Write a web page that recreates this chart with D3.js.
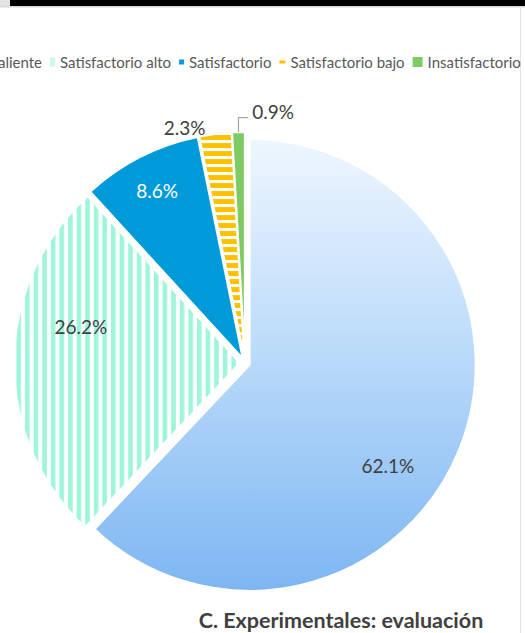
<!DOCTYPE html>
<html>
<head>
<meta charset="utf-8">
<script src="https://cdn.jsdelivr.net/npm/d3@7"></script>
<style>
  body { margin: 0; background: #fff; }
  svg { display: block; }
</style>
</head>
<body>
<div id="chart"></div>
<script>
// data
var categories = ["Sobresaliente", "Satisfactorio alto", "Satisfactorio", "Satisfactorio bajo", "Insatisfactorio"];
var values = [62.1, 26.2, 8.6, 2.3, 0.9];
var labels = ["62.1%", "26.2%", "8.6%", "2.3%", "0.9%"];
var title = "C. Experimentales: evaluación";

var width = 525, height = 633;
var cx = 245, cy = 363, radius = 226, explode = 5;

var svg = d3.select("#chart")
  .append("svg")
  .attr("width", width)
  .attr("height", height);

var defs = svg.append("defs");

// gradient for the big slice (coords are relative to the pie centre)
var grad = defs.append("linearGradient")
  .attr("id", "gradBlue")
  .attr("gradientUnits", "userSpaceOnUse")
  .attr("x1", 0).attr("y1", -radius)
  .attr("x2", 0).attr("y2", radius);
grad.append("stop").attr("offset", "0%").attr("stop-color", "#eef6fe");
grad.append("stop").attr("offset", "45%").attr("stop-color", "#bddcfa");
grad.append("stop").attr("offset", "100%").attr("stop-color", "#7db6f2");

// vertical mint stripes
var vs = defs.append("pattern")
  .attr("id", "vStripes")
  .attr("patternUnits", "userSpaceOnUse")
  .attr("width", 8.6).attr("height", 10);
vs.append("rect").attr("width", 8.6).attr("height", 10).attr("fill", "#fff");
vs.append("rect").attr("x", 0).attr("width", 4.6).attr("height", 10).attr("fill", "#9ef6da");

// horizontal gold dashes
var hs = defs.append("pattern")
  .attr("id", "hStripes")
  .attr("patternUnits", "userSpaceOnUse")
  .attr("width", 10).attr("height", 8);
hs.append("rect").attr("width", 10).attr("height", 8).attr("fill", "#fff");
hs.append("rect").attr("y", 1).attr("width", 10).attr("height", 5).attr("fill", "#ffc000");

var fills = ["url(#gradBlue)", "url(#vStripes)", "#009ad8", "url(#hStripes)", "#7ecb63"];
var labelColors = ["#404040", "#404040", "#ffffff", "#404040", "#404040"];
// label placement: radius and angle nudge (deg) from each slice's mid angle
var labelR = [176, 168, 194, 243, 253];
var labelShift = [14, 12, 0, -7, 8];

// frame bits of the screenshot
svg.append("rect").attr("x", 0).attr("y", 0).attr("width", 10).attr("height", 7).attr("fill", "#e2e2e2");
svg.append("rect").attr("x", 10).attr("y", 0).attr("width", width - 10).attr("height", 6).attr("fill", "#000");
svg.append("rect").attr("x", 0).attr("y", 6).attr("width", width).attr("height", 1.5).attr("fill", "#d9d9d9");
svg.append("rect").attr("x", 520).attr("y", 7).attr("width", 1).attr("height", height - 7).attr("fill", "#e3e3e3");

var pie = d3.pie().sort(null).value(function (d) { return d; });
var arcs = pie(values);
var arc = d3.arc().innerRadius(0).outerRadius(radius);

var g = svg.append("g").attr("transform", "translate(" + cx + "," + cy + ")");

function mid(d) { return (d.startAngle + d.endAngle) / 2; }

g.selectAll("path.slice")
  .data(arcs)
  .enter()
  .append("path")
  .attr("class", "slice")
  .attr("transform", function (d) {
    var a = mid(d);
    return "translate(" + (Math.sin(a) * explode) + "," + (-Math.cos(a) * explode) + ")";
  })
  .attr("d", arc)
  .attr("fill", function (d, i) { return fills[i]; })
  .attr("stroke", "#fff")
  .attr("stroke-width", 2);

// labels
function labelPos(d, i) {
  var a = mid(d) + labelShift[i] * Math.PI / 180;
  return [Math.sin(a) * labelR[i], -Math.cos(a) * labelR[i]];
}

g.selectAll("text.lbl")
  .data(arcs)
  .enter()
  .append("text")
  .attr("class", "lbl")
  .attr("x", function (d, i) { return labelPos(d, i)[0]; })
  .attr("y", function (d, i) { return labelPos(d, i)[1]; })
  .attr("text-anchor", "middle")
  .attr("dominant-baseline", "central")
  .style("font-family", "Lato, 'Open Sans', sans-serif")
  .style("font-size", "19px")
  .attr("fill", function (d, i) { return labelColors[i]; })
  .text(function (d, i) { return labels[i]; });

// leader line for the tiny slice
var last = arcs[4];
var la = mid(last);
var p0 = [Math.sin(la) * (radius + explode), -Math.cos(la) * (radius + explode)];
var lp = labelPos(last, 4);
g.append("polyline")
  .attr("points", [p0, [p0[0], lp[1] + 6], [lp[0] - 25, lp[1] + 6]].map(function (p) { return p.join(","); }).join(" "))
  .attr("fill", "none")
  .attr("stroke", "#a6a6a6")
  .attr("stroke-width", 1.2);

// legend
var legend = svg.append("g").attr("transform", "translate(0,62)");
var markW = [8, 5, 5, 6, 10];
var markH = [8, 9, 5, 3, 10];
var items = legend.selectAll("g.item")
  .data(categories)
  .enter()
  .append("g")
  .attr("class", "item");
items.append("text")
  .attr("dominant-baseline", "central")
  .style("font-family", "Lato, 'Open Sans', sans-serif")
  .style("font-size", "15px")
  .attr("fill", "#595959")
  .text(function (d) { return d; });
var widths = [];
items.select("text").each(function () { widths.push(this.getComputedTextLength()); });
var gap = 5, itemGap = 8;
// second item's marker sits at x=50
var x0 = 50 - (markW[0] + gap + widths[0] + itemGap);
var xs = [];
var xc = x0;
categories.forEach(function (c, i) {
  xs.push(xc);
  xc += markW[i] + gap + widths[i] + itemGap;
});
items.attr("transform", function (d, i) { return "translate(" + xs[i] + ",0)"; });
items.select("text").attr("x", function (d, i) { return markW[i] + gap; });
items.insert("rect", "text")
  .attr("x", 0)
  .attr("y", function (d, i) { return -markH[i] / 2; })
  .attr("width", function (d, i) { return markW[i]; })
  .attr("height", function (d, i) { return markH[i]; })
  .attr("fill", function (d, i) { return ["#bcdcfa", "#c8f9ea", "#009ad8", "#ffc000", "#7ecb63"][i]; });

// title
svg.append("text")
  .attr("x", 341)
  .attr("y", 628)
  .attr("text-anchor", "middle")
  .style("font-family", "Lato, 'Open Sans', sans-serif")
  .style("font-size", "21.5px")
  .style("font-weight", "bold")
  .attr("fill", "#404040")
  .text(title);
</script>
</body>
</html>
